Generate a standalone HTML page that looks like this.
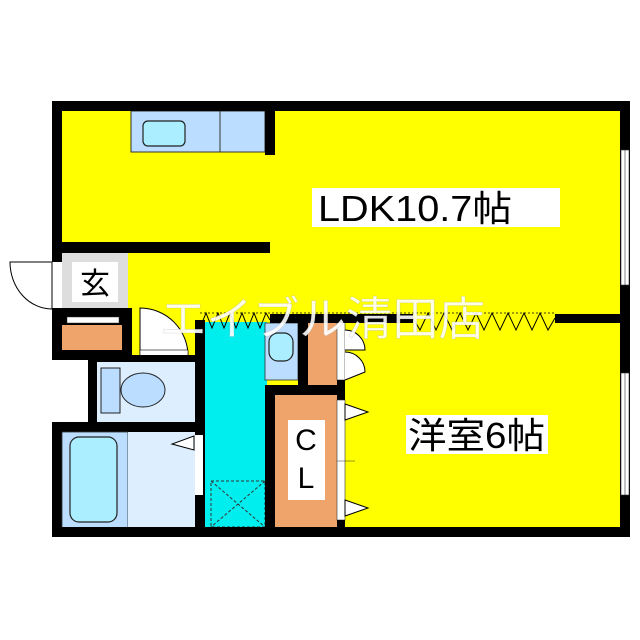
<!DOCTYPE html>
<html><head><meta charset="utf-8"><style>body{margin:0;background:#fff}svg{display:block}</style></head><body>
<svg width="640" height="640" viewBox="0 0 640 640" xmlns="http://www.w3.org/2000/svg" font-family="'Liberation Sans','Noto Sans CJK JP',sans-serif">
<rect x="0" y="0" width="640" height="640" fill="#fff"/>
<rect x="62" y="111" width="558" height="420" fill="#ffff00"/>
<rect x="52" y="360" width="36" height="62" fill="#fff"/>
<!-- kitchen -->
<rect x="131" y="111" width="134" height="41" fill="#bbddff" stroke="#333" stroke-width="1"/>
<line x1="220" y1="111" x2="220" y2="152" stroke="#333"/>
<rect x="143" y="121" width="42" height="25" rx="5" fill="#aaeeff" stroke="#222" stroke-width="1.2"/>
<rect x="265" y="111" width="10" height="44" fill="#000"/>
<rect x="52" y="242" width="218" height="11" fill="#000"/>
<!-- entrance -->
<rect x="62" y="253" width="66" height="60" fill="#dddddd"/>
<rect x="72" y="262" width="46" height="40" fill="#fff"/>
<text x="95" y="294" font-size="30" text-anchor="middle" fill="#000">玄</text>
<path d="M52 262 L10 262 A42 47 0 0 0 52 309 Z" fill="#fff" stroke="#000" stroke-width="1"/>
<rect x="52" y="308" width="80" height="52" fill="#000"/>
<rect x="67" y="317" width="52" height="6" fill="#fff" stroke="#333" stroke-width="0.5"/>
<rect x="62" y="325" width="60" height="25" fill="#eea46a"/>
<!-- toilet door -->
<path d="M140 308 A48 48 0 0 1 188 356 L188 360 L140 360 Z" fill="#fff" stroke="#000" stroke-width="1"/>
<rect x="140" y="350" width="48" height="10" fill="#fff" stroke="#000" stroke-width="0.6"/>
<!-- toilet room -->
<rect x="88" y="355" width="117" height="77" fill="#000"/>
<rect x="97" y="362" width="98" height="60" fill="#ddeeff"/>
<rect x="101" y="368" width="19" height="45" fill="#bbddff" stroke="#222"/>
<ellipse cx="143" cy="390" rx="22" ry="17" fill="#bbddff" stroke="#222"/>
<!-- bath -->
<rect x="52" y="422" width="153" height="115" fill="#000"/>
<rect x="62" y="432" width="66" height="96" fill="#bbddff" stroke="#333" stroke-width="0.8"/>
<rect x="70" y="437" width="47" height="85" rx="9" fill="#aaeeff" stroke="#222" stroke-width="1.2"/>
<rect x="128" y="432" width="67" height="96" fill="#ddeeff"/>
<rect x="195" y="435" width="8" height="60" fill="#fff"/>
<path d="M194 436 L172 444 L194 450 Z" fill="#fff" stroke="#000" stroke-width="1"/>
<!-- corridor -->
<rect x="195" y="320" width="10" height="115" fill="#000"/>
<rect x="205" y="322" width="62" height="206" fill="#00eeee"/>
<rect x="211" y="481" width="54" height="46" fill="none" stroke="#333" stroke-dasharray="3,2"/>
<path d="M211 481 L265 527 M265 481 L211 527" stroke="#333" stroke-dasharray="3,2"/>
<rect x="265" y="323" width="33" height="57" fill="#bbddff" stroke="#333" stroke-width="0.8"/>
<rect x="269" y="333" width="24" height="28" rx="9" fill="#aaeeff" stroke="#222" stroke-width="1.2"/>
<rect x="298" y="318" width="10" height="72" fill="#000"/>
<rect x="308" y="322" width="30" height="63" fill="#eea46a"/>
<rect x="337" y="322" width="8" height="58" fill="#fff" stroke="#333" stroke-width="0.6"/>
<path d="M345 330 A20 20 0 0 1 365 350 L345 350 M345 352 A20 20 0 0 1 365 372 L345 380" fill="#fff" stroke="#000" stroke-width="1"/>
<!-- CL -->
<rect x="265" y="385" width="80" height="10" fill="#000"/>
<rect x="265" y="385" width="10" height="152" fill="#000"/>
<rect x="275" y="395" width="62" height="133" fill="#eea46a"/>
<rect x="288" y="420" width="37" height="80" fill="#fff"/>
<text x="306" y="450" font-size="30" text-anchor="middle">C</text>
<text x="306" y="488" font-size="30" text-anchor="middle">L</text>
<rect x="337" y="380" width="8" height="20" fill="#000"/>
<rect x="337" y="400" width="8" height="120" fill="#fff" stroke="#333" stroke-width="0.6"/>
<line x1="337" y1="461" x2="355" y2="461" stroke="#333" stroke-width="0.6"/>
<path d="M345 404 L368 412 L345 420 Z M345 500 L368 508 L345 516 Z" fill="#fff" stroke="#000"/>
<rect x="337" y="520" width="8" height="17" fill="#000"/>
<!-- partition -->
<rect x="270" y="314" width="143" height="9" fill="#000"/>
<rect x="555" y="314" width="70" height="9" fill="#000"/>
<line x1="200" y1="313" x2="555" y2="313" stroke="#000" stroke-dasharray="2,2" stroke-width="0.8"/>
<polyline points="200,328 206,313 212,328 218,313 224,328 230,313 236,328 242,313 248,328 254,313 260,328 266,313 270,320" fill="none" stroke="#000"/>
<polyline points="413,318 420,330 428,313 436,330 444,313 452,330 460,313 468,330 476,313 484,330 492,313 500,330 508,313 516,330 524,313 532,330 540,313 548,330 555,318" fill="none" stroke="#000"/>
<!-- outer walls -->
<rect x="52" y="101" width="578" height="10" fill="#000"/>
<rect x="52" y="101" width="10" height="161" fill="#000"/>
<rect x="620" y="101" width="10" height="436" fill="#000"/>
<rect x="52" y="527" width="578" height="10" fill="#000"/>
<rect x="621" y="150" width="8" height="135" fill="#fff" stroke="#333" stroke-width="0.6"/>
<line x1="625" y1="150" x2="625" y2="285" stroke="#333" stroke-width="0.6"/>
<rect x="621" y="373" width="8" height="122" fill="#fff" stroke="#333" stroke-width="0.6"/>
<line x1="625" y1="373" x2="625" y2="495" stroke="#333" stroke-width="0.6"/>
<!-- labels -->
<rect x="312" y="188" width="248" height="39" fill="#fff"/>
<text x="318" y="221" font-size="36" fill="#000" textLength="194" lengthAdjust="spacingAndGlyphs">LDK10.7帖</text>
<rect x="406" y="415" width="142" height="39" fill="#fff"/>
<text x="408" y="448" font-size="36" fill="#000" textLength="137" lengthAdjust="spacingAndGlyphs">洋室6帖</text>
<text x="160" y="335" font-size="46" fill="#fff" fill-opacity="0.9" stroke="#888" stroke-opacity="0.3" stroke-width="0.6" textLength="325" lengthAdjust="spacingAndGlyphs">エイブル清田店</text>
</svg>
</body></html>
